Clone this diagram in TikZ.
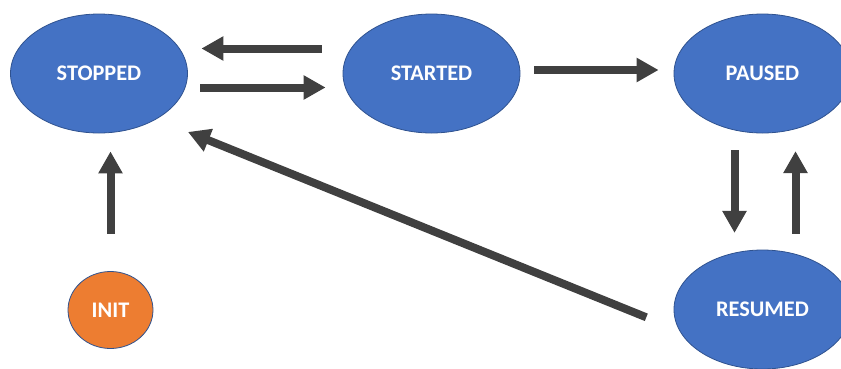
\documentclass[tikz,border=0pt]{standalone}
\usepackage{fontspec}
\setmainfont{Carlito}
\usetikzlibrary{shapes.geometric,arrows.meta}
\definecolor{stateblue}{HTML}{4472C4}
\definecolor{stateedge}{HTML}{2F528F}
\definecolor{initorange}{HTML}{ED7D31}
\definecolor{arrowgray}{HTML}{404040}
\tikzset{
  state/.style={ellipse, draw=stateedge, line width=0.8pt, fill=stateblue,
    minimum width=177pt, minimum height=119pt, inner sep=0pt,
    text=white, font=\fontsize{22.3}{26}\selectfont\bfseries},
  initstate/.style={state, fill=initorange, minimum width=85pt, minimum height=77pt},
  arr/.style={draw=arrowgray, line width=8pt,
    -{Triangle[length=22pt, width=23pt]}}
}
\begin{document}
\begin{tikzpicture}[x=1pt, y=-1pt]
  \useasboundingbox (0,0) rectangle (841,368);
  \clip (0,0) rectangle (841,368);

  % states
  \node[state] (stopped) at (99,73.5) {STOPPED};
  \node[state] (started) at (431.5,73.5) {STARTED};
  \node[state] (paused)  at (762.5,73.5) {PAUSED};
  \node[state] (resumed) at (762.5,309.5) {RESUMED};
  \node[initstate] (init) at (110.5,310) {INIT};

  % transitions
  \draw[arr, shorten <=21pt, shorten >=13.5pt]
    ([yshift=25pt]started.west) -- ([yshift=25pt]stopped.east);
  \draw[arr, shorten <=12.5pt, shorten >=17pt]
    ([yshift=-14pt]stopped.east) -- ([yshift=-14pt]started.west);
  \draw[arr, shorten <=14pt, shorten >=15pt]
    ([yshift=3.5pt]started.east) -- ([yshift=3.5pt]paused.west);
  \draw[arr, shorten <=17pt, shorten >=16.7pt]
    ([xshift=-28pt]paused.south) -- ([xshift=-28pt]resumed.north);
  \draw[arr, shorten <=16pt, shorten >=17.7pt]
    ([xshift=33pt]resumed.north) -- ([xshift=33pt]paused.south);
  \draw[arr, shorten <=37.5pt, shorten >=18pt]
    (init.north) -- (init.north |- stopped.south);
  \draw[arr]
    ([shift={(-27.3,7.8)}]resumed.west) -- ([shift={(26.1,16.1)}]stopped.south east);
\end{tikzpicture}
\end{document}
